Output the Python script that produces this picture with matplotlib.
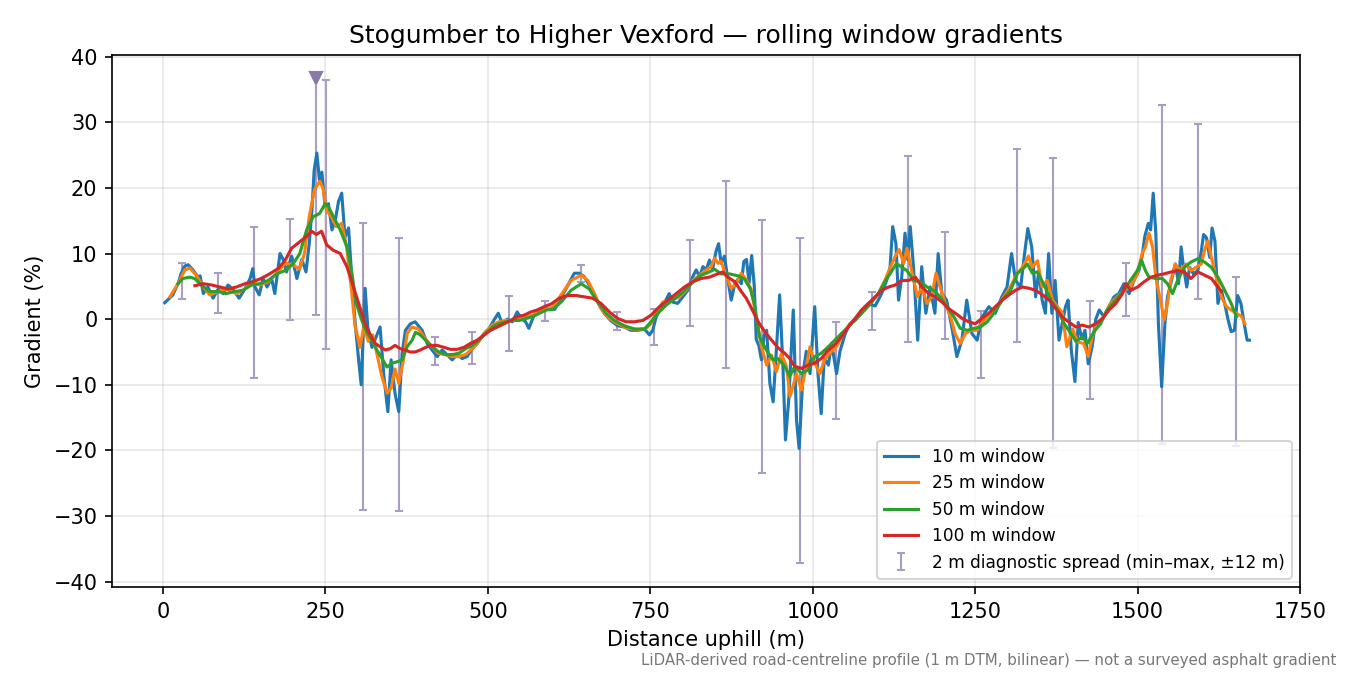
import numpy as np
import matplotlib
matplotlib.use("Agg")
import matplotlib.pyplot as plt

# 10 m window (distance m, gradient %)
x10 = [2.6, 10, 15, 23, 28, 33.5, 38.6, 46, 54, 57, 62, 69, 77, 85, 92.6, 100, 108, 117, 126, 134,
       138, 141.5, 148, 154, 160, 167, 172, 180, 185, 190, 198, 206, 213.6, 220, 225, 229, 232.6, 236.7, 240.7, 244.4,
       249.5, 254.6, 260, 265, 270, 275, 280, 285.5, 290.7, 295.8, 301, 305, 311, 315, 321.5, 326.7, 334, 340, 346, 351,
       357, 362.8, 368, 373, 380.7, 388, 398.8, 406.5, 414, 422, 429.6, 437, 445, 452.8, 460.5, 468, 476, 483.6, 494, 502,
       509, 516, 522, 530, 537.6, 545, 551.6, 558, 563, 571, 578.7, 586, 594, 603, 607.5, 617.8, 625.3, 633, 640.4, 648,
       656, 664, 671.3, 679, 689, 699.7, 710, 720, 730.5, 741, 748.6, 753.7, 758.8, 766.5, 774, 779, 784.5, 792, 800, 807.7,
       815.4, 820.6, 825.7, 831, 836, 841, 846, 851, 855, 859, 864, 869.5, 874.5, 880, 885, 890, 894, 898, 902, 906,
       910, 913, 917, 921, 925, 929, 934, 939, 944, 949, 954, 958, 963, 970, 975, 979, 985, 990, 995.8, 1003,
       1008, 1013, 1017.6, 1024, 1029, 1036.6, 1041.8, 1050, 1057, 1065, 1075, 1085.6, 1096, 1106, 1113.7, 1119, 1123, 1128, 1132, 1137,
       1142, 1146, 1150, 1155, 1161.5, 1167.7, 1174, 1180.6, 1188, 1193, 1198.6, 1206, 1214, 1221.8, 1229.5, 1237, 1245, 1253, 1260, 1271,
       1281, 1291, 1299, 1306, 1312, 1320, 1326, 1331, 1337, 1343, 1348, 1353, 1358, 1363, 1368, 1373, 1379, 1384, 1389, 1393,
       1398, 1403.5, 1408.6, 1414, 1419, 1424, 1430, 1435.6, 1441, 1448, 1456, 1463.6, 1471, 1479, 1487, 1494.4, 1502, 1507, 1511, 1516.5,
       1520, 1524, 1528, 1532, 1537, 1542, 1546, 1551, 1558, 1563, 1567, 1570, 1575.6, 1580, 1586, 1592.6, 1598, 1601.6, 1606, 1611,
       1614.6, 1619, 1623.6, 1628.8, 1634, 1639, 1644, 1649, 1654, 1659, 1664, 1668.6, 1672]
g10 = [2.5, 3.2, 3.7, 5.4, 7.0, 8.1, 8.3, 7.5, 6.4, 6.6, 3.9, 4.9, 3.2, 4.6, 3.9, 5.2, 4.5, 3.2, 4.6, 6.2,
       7.7, 4.9, 3.7, 6.2, 4.9, 6.2, 3.9, 10.0, 9.1, 7.2, 9.6, 6.2, 9.1, 7.2, 11.5, 16.4, 22.7, 25.3, 21.2, 22.4,
       17.1, 17.6, 13.6, 15.0, 17.9, 19.2, 12.5, 13.9, 5.9, -0.7, -6.2, -10.0, 4.7, -1.2, -4.3, -3.0, -1.2, -8.8, -14.1, -6.2,
       -11.3, -14.1, -5.2, -1.7, -0.7, -0.4, -1.7, -3.7, -4.7, -5.7, -4.7, -5.4, -6.2, -5.4, -6.0, -5.7, -4.5, -3.7, -2.2, -1.4,
       -0.2, 0.9, -0.7, 0.0, -0.4, 1.1, 0.1, -0.4, -1.4, 0.6, 1.4, 1.6, 1.6, 1.5, 2.4, 4.2, 5.6, 7.0, 7.0, 6.5,
       5.2, 3.7, 2.2, 0.9, -0.2, -1.0, -1.2, -1.7, -1.7, -1.5, -2.4, -1.7, 0.3, 1.9, 2.9, 3.9, 2.6, 2.4, 3.4, 4.4,
       6.5, 7.5, 6.5, 8.0, 7.5, 9.0, 7.7, 10.3, 11.5, 8.5, 9.6, 5.9, 2.9, 5.4, 6.1, 5.4, 8.8, 9.1, 5.5, 9.7,
       5.0, -3.1, -4.0, -6.2, -2.5, -1.7, -9.8, -12.6, -4.7, 3.7, -7.0, -18.4, -12.3, 1.4, -15.4, -19.7, -8.3, -4.9, -8.3, 1.9,
       -8.3, -14.4, -5.9, -7.0, -3.7, -8.3, -4.9, -2.2, -0.7, -0.2, 0.9, 2.4, 2.0, 3.9, 5.9, 7.9, 14.1, 11.5, 2.9, 6.5,
       13.1, 9.1, 14.1, 8.0, -3.2, 8.0, 0.9, 4.9, 0.9, 10.0, 3.9, 2.9, -1.2, -5.7, -3.2, 2.9, -2.2, -3.2, 0.2, 1.9,
       0.9, 3.4, 4.9, 10.0, 5.9, 4.9, 10.0, 13.8, 11.0, 3.4, 7.4, 2.9, 0.9, 10.0, 0.9, 5.9, -3.2, -0.6, 1.9, 2.9,
       -4.8, -9.5, -0.5, -3.0, -1.7, -6.8, -4.2, 0.0, 1.4, 0.4, 1.9, 3.4, 3.9, 5.4, 3.9, 5.9, 7.4, 9.6, 12.6, 14.6,
       13.6, 19.2, 13.1, -0.7, -10.3, -0.7, 3.4, 5.4, 8.4, 5.4, 11.0, 8.4, 4.9, 7.9, 6.9, 7.4, 10.4, 12.9, 12.4, 9.4,
       13.9, 11.9, 2.4, 4.4, 2.4, 0.0, -1.9, -1.7, 3.6, 2.4, -0.7, -3.2, -3.2]

# 25 m window
x25 = [10.5, 23, 33.5, 41, 51, 62, 72, 85, 97, 113, 126, 136.5, 149, 162, 175, 187.5, 200, 210, 217.7, 225,
       233, 241, 246, 251.6, 259, 267, 275, 282.7, 290, 295.7, 298, 303, 309, 316, 322.7, 330, 337, 345, 351, 357,
       362.8, 370, 375.6, 383, 393, 403, 414, 424, 434.5, 445, 455, 465.6, 476, 486, 496.5, 507, 517, 527.6, 538, 548.6,
       559, 569, 579.5, 590, 600, 612.6, 628, 643.6, 653.8, 664, 674, 687, 699.7, 715, 730.5, 743.4, 751, 758.8, 769, 782,
       795, 805, 815.4, 825.7, 836, 843.6, 849, 854, 859, 866.8, 874.5, 882, 890, 897.6, 905, 913, 921, 929, 936.6, 944,
       951.6, 959.4, 965, 975, 982.6, 990, 995.8, 1003, 1011, 1018, 1026, 1036.6, 1047, 1057, 1070, 1085.6, 1101, 1111, 1119, 1127,
       1133, 1140, 1145, 1153, 1161, 1168, 1175.6, 1183, 1189.6, 1196, 1204, 1212, 1219, 1227, 1235, 1243, 1253, 1263, 1273.4, 1283.7,
       1294, 1304, 1315, 1322.7, 1332, 1338, 1346, 1353, 1361, 1369, 1376.6, 1384, 1391, 1400, 1408, 1417, 1424, 1430, 1437.6, 1448,
       1458, 1468.5, 1479, 1489, 1499.5, 1507, 1512, 1517.5, 1523, 1528, 1534, 1541, 1546, 1551, 1558, 1565, 1574.4, 1582, 1590, 1598,
       1603, 1608, 1613.5, 1621, 1629, 1636.6, 1644, 1652, 1660, 1665]
g25 = [3.4, 5.4, 7.5, 7.8, 6.7, 4.9, 3.7, 4.2, 4.6, 3.9, 4.6, 5.7, 5.2, 5.7, 7.0, 8.5, 8.3, 7.6, 10.0, 15.6,
       19.7, 21.0, 20.0, 16.6, 15.6, 14.1, 14.6, 11.0, 4.5, -1.2, -2.0, -4.3, -1.2, -3.4, -2.4, -5.7, -8.8, -11.3, -10.5, -7.6,
       -9.8, -6.2, -2.2, -1.2, -1.5, -2.9, -4.2, -5.2, -5.4, -5.7, -5.7, -5.4, -4.5, -3.4, -1.9, -0.9, -0.4, -0.2, -0.2, 0.1,
       0.4, 0.6, 1.1, 1.6, 1.8, 3.7, 5.9, 6.7, 5.9, 3.9, 1.6, 0.1, -0.7, -1.4, -1.6, -1.4, -0.7, 0.9, 2.6, 2.9,
       3.4, 4.4, 5.9, 6.7, 7.5, 8.0, 9.3, 8.5, 8.8, 6.5, 4.7, 5.4, 7.0, 6.0, 4.6, 0.4, -4.2, -7.0, -5.5, -8.0,
       -5.3, -7.2, -11.8, -8.3, -10.8, -7.2, -4.2, -6.7, -8.3, -6.2, -5.2, -4.2, -2.2, -0.7, 0.4, 2.0, 3.9, 5.9, 7.8, 9.6,
       10.6, 8.5, 10.8, 7.0, 3.4, 4.9, 2.4, 3.4, 7.0, 4.9, 2.4, 0.4, -2.2, -3.7, -2.2, -1.7, -1.7, -0.2, 0.9, 1.9,
       3.4, 4.9, 7.0, 7.9, 9.6, 7.9, 8.9, 4.9, 5.9, 2.9, 1.9, 1.0, -4.2, -1.5, -3.5, -3.7, -5.7, -2.7, -0.7, 0.4,
       2.4, 3.4, 4.4, 4.9, 6.9, 10.0, 11.0, 13.1, 11.0, 6.4, 3.4, -0.1, 2.4, 5.9, 8.4, 7.4, 8.4, 7.4, 7.9, 8.4,
       10.5, 11.9, 9.4, 6.4, 3.4, 1.9, 1.4, 0.9, 0.4, -0.7]

# 50 m window
x50 = [23, 30.7, 41, 48.6, 59, 72, 85, 97, 110, 123, 136, 149, 162, 175, 187.5, 200, 210.5, 221, 231, 241,
       249.5, 254.6, 262.4, 272.7, 283, 290.7, 297, 306, 313.7, 321.5, 329, 337, 344.6, 352.4, 360, 368, 375.6, 383.4, 388.5, 396,
       404, 414, 424.5, 434.7, 445, 455, 465.6, 476, 486, 496.5, 507, 517, 527.6, 538, 548.6, 559, 569, 579.5, 590, 600,
       612.6, 628, 643.6, 656, 669, 682, 694.6, 710, 725.6, 741, 751, 761.6, 774, 787, 800, 813, 825.7, 838.6, 849, 859,
       872, 885, 895, 904, 910, 918, 928.5, 939, 946, 957, 964.5, 972.4, 982.6, 993, 1003, 1013, 1024, 1034, 1044, 1054.6,
       1070, 1085.6, 1101, 1111, 1122, 1129, 1137, 1145, 1155, 1165.6, 1176, 1186, 1196, 1207, 1217, 1227, 1237.6, 1248, 1258, 1268.6,
       1278.8, 1291.6, 1304.5, 1315, 1322.7, 1330.5, 1338, 1346, 1356, 1366.6, 1377, 1387, 1397.5, 1405, 1414.7, 1422.5, 1433, 1443, 1453, 1466,
       1479, 1489, 1499.5, 1506, 1512, 1517.5, 1528, 1538, 1546, 1553.8, 1561.6, 1572, 1582, 1592.6, 1603, 1613.5, 1623.6, 1634, 1644, 1652]
g50 = [5.4, 6.2, 6.4, 6.2, 5.2, 4.2, 4.2, 3.9, 4.2, 4.4, 5.2, 5.4, 5.9, 6.9, 7.4, 8.4, 10.0, 13.6, 15.6, 16.1,
       17.6, 17.1, 15.6, 13.6, 11.0, 7.0, 2.5, -0.2, -2.0, -3.2, -4.7, -6.0, -7.3, -6.7, -6.5, -6.2, -4.2, -3.2, -2.0, -2.4,
       -3.2, -4.2, -5.0, -5.4, -5.4, -5.2, -4.5, -4.0, -3.2, -2.2, -1.2, -0.7, -0.4, -0.2, -0.2, 0.1, 0.4, 0.9, 1.4, 1.5,
       2.6, 4.4, 5.4, 4.6, 2.6, 0.9, -0.2, -1.0, -1.5, -1.5, -0.4, 0.9, 2.1, 3.1, 4.1, 5.4, 6.6, 7.1, 7.6, 6.9,
       6.9, 6.6, 6.1, 4.6, 2.4, -2.7, -4.7, -6.2, -6.0, -7.2, -8.7, -7.2, -8.3, -7.7, -5.7, -5.2, -4.2, -3.2, -2.2, -1.2,
       0.4, 2.0, 3.9, 5.7, 7.4, 8.5, 7.9, 7.4, 5.9, 5.7, 4.9, 4.4, 3.4, 1.9, 0.4, -1.4, -1.7, -1.4, -1.2, -0.4,
       0.9, 2.9, 4.4, 7.0, 7.6, 8.4, 7.0, 7.2, 5.2, 2.9, 1.4, -0.7, -2.2, -3.4, -2.7, -3.7, -1.9, -0.7, 1.4, 2.9,
       4.4, 5.9, 7.4, 9.0, 7.4, 6.4, 6.2, 6.2, 5.4, 3.9, 5.9, 7.9, 8.7, 9.2, 8.7, 7.9, 6.4, 4.4, 2.4, 0.4]

# 100 m window
x100 = [49, 62, 75, 87.5, 100, 113, 126, 138, 151, 164, 177, 187.5, 197.8, 210.5, 221, 228.6, 236, 244, 252, 262,
        272.7, 283, 293, 302.5, 311, 319, 326.7, 334, 342, 349.6, 357, 365, 372.5, 380, 388, 396, 404, 411.6, 422, 432,
        442.5, 452.7, 463, 473, 483.6, 494, 504, 514.5, 525, 535, 545.4, 555.7, 566, 576, 586.5, 597, 610, 623, 635.6, 648.5,
        661, 674, 687, 699.7, 712.6, 725.6, 738.4, 751, 764, 777, 790, 802.6, 815.4, 828, 841, 854, 861.5, 869.5, 880, 890,
        897.6, 905, 916, 926, 936.6, 947, 957, 964.5, 972.4, 982.6, 993, 1003, 1013, 1024, 1034, 1044, 1054.6, 1065, 1075, 1085.6,
        1096, 1106, 1116.7, 1127, 1137, 1147.6, 1158, 1168, 1178.6, 1188.8, 1199, 1209, 1219.6, 1230, 1240, 1250, 1260, 1271, 1281, 1291.6,
        1302, 1312, 1322.7, 1333, 1343, 1353.6, 1364, 1374, 1384.5, 1395, 1405, 1414.7, 1425, 1435.6, 1446, 1456, 1466.5, 1476.8, 1482, 1489.6,
        1500, 1510, 1520.6, 1531, 1541, 1551.6, 1562, 1572, 1582, 1592.6, 1603, 1613.5, 1623.6, 1629]
g100 = [5.1, 5.4, 5.2, 4.9, 4.6, 4.9, 5.4, 5.7, 6.2, 6.9, 7.7, 8.9, 10.8, 11.8, 12.6, 13.4, 12.9, 13.4, 11.3, 10.5,
        10.0, 8.0, 4.9, 2.0, -0.7, -2.4, -3.7, -4.2, -4.7, -4.5, -4.0, -4.5, -4.7, -5.0, -5.0, -4.7, -4.3, -4.0, -4.0, -4.3,
        -4.6, -4.6, -4.3, -3.7, -3.2, -2.4, -1.7, -1.2, -0.7, -0.2, 0.4, 0.6, 1.1, 1.4, 1.9, 2.3, 3.2, 3.6, 3.6, 3.4,
        3.2, 2.4, 1.1, 0.1, -0.4, -0.4, -0.2, 0.6, 1.9, 2.9, 3.9, 4.9, 5.7, 6.2, 6.4, 6.9, 7.2, 6.4, 5.7, 4.2,
        3.2, 1.8, -0.4, -1.9, -3.2, -4.4, -5.2, -6.0, -7.2, -7.5, -7.0, -6.7, -6.0, -4.7, -3.9, -2.7, -1.2, 0.1, 1.4, 2.4,
        3.4, 4.4, 4.9, 5.2, 5.9, 5.9, 6.4, 4.9, 3.9, 3.4, 2.6, 1.6, 0.9, 0.1, -0.4, -0.7, 0.1, 0.9, 1.9, 2.9,
        3.7, 4.4, 4.9, 4.7, 4.4, 3.7, 2.9, 1.6, 0.3, -0.5, -1.2, -0.9, -1.2, -0.7, 0.1, 1.4, 2.4, 3.9, 5.4, 4.4,
        4.9, 5.7, 6.4, 6.7, 6.9, 7.2, 7.4, 7.2, 6.2, 7.2, 6.7, 6.2, 4.9, 4.2]

# 2 m diagnostic spread (min-max within +-12 m)
spread_x = [28.9, 84.4, 140, 195.5, 235.6, 251, 308, 363.7, 419, 474.8, 531.8, 587.5, 643, 698.6, 755, 810.8,
            866.8, 922, 980, 1035, 1090.6, 1146, 1202.8, 1258.8, 1314.8, 1370, 1427, 1482, 1538, 1593, 1650.8]
spread_hi = [8.5, 7.0, 14.1, 15.3, 36.7, 36.5, 14.6, 12.3, -2.7, -2.0, 3.6, 2.7, 8.3, 1.1, 1.5, 12.1,
             21.0, 15.1, 12.3, -0.4, 4.1, 24.8, 13.3, 1.3, 25.9, 24.5, 2.7, 8.5, 32.7, 29.8, 6.5]
spread_lo = [3.0, 1.0, -9.0, -0.2, 0.7, -4.5, -29.1, -29.3, -7.0, -6.8, -4.9, -0.3, 5.7, -1.7, -3.9, -1.1,
             -7.4, -23.4, -37.2, -15.2, -1.7, -3.5, -3.0, -9.0, -3.5, -19.6, -12.1, 0.5, -19.0, 3.1, -19.4]

# steepest 2 m sample
peak_x = 235.6
peak_g = 36.7

fig, ax = plt.subplots(figsize=(9, 4.5), dpi=150)

lo = np.array(spread_lo)
hi = np.array(spread_hi)
mid = (lo + hi) / 2
ax.errorbar(spread_x, mid, yerr=[mid - lo, hi - mid], fmt='none', ecolor='#a99dc6',
            elinewidth=1, capsize=2, zorder=1.5, label="2 m diagnostic spread (min\u2013max, \u00b112 m)")

ax.plot(x10, g10, color='tab:blue', lw=1.5, label="10 m window")
ax.plot(x25, g25, color='tab:orange', lw=1.5, label="25 m window")
ax.plot(x50, g50, color='tab:green', lw=1.5, label="50 m window")
ax.plot(x100, g100, color='tab:red', lw=1.5, label="100 m window")

ax.plot([peak_x], [peak_g], marker='v', color='#8a79ab', markersize=6, linestyle='none', zorder=3)

ax.set_xlim(-78.5, 1750)
ax.set_ylim(-40.85, 40.25)
ax.set_xlabel("Distance uphill (m)")
ax.set_ylabel("Gradient (%)")
ax.set_title("Stogumber to Higher Vexford \u2014 rolling window gradients")
ax.grid(True, alpha=0.3)
ax.legend(loc='lower right', fontsize=8.2)

fig.text(0.99, 0.01, "LiDAR-derived road-centreline profile (1 m DTM, bilinear) \u2014 not a surveyed asphalt gradient",
         ha='right', va='bottom', fontsize=7.2, color='#777777')

fig.subplots_adjust(left=0.083, right=0.963, top=0.9185, bottom=0.130)
fig.savefig("out.png", dpi=150)
